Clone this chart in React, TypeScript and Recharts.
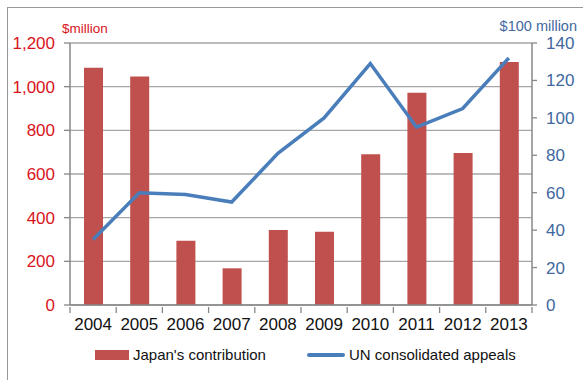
import React from 'react';
import { ComposedChart, Bar, Line, XAxis, YAxis, CartesianGrid } from 'recharts';

const years = ['2004', '2005', '2006', '2007', '2008', '2009', '2010', '2011', '2012', '2013'];
const japanContribution = [1087, 1047, 294, 168, 343, 336, 691, 972, 696, 1113];
const unAppeals = [35, 60, 59, 55, 81, 100, 129, 95, 105, 132];
const leftTicks = [0, 200, 400, 600, 800, 1000, 1200];
const rightTicks = [0, 20, 40, 60, 80, 100, 120, 140];

const data = years.map((y, i) => ({ year: y, japan: japanContribution[i], un: unAppeals[i] }));

const RED = '#C0504D';
const BLUE = '#4A7EBB';
const LEFT_TXT = '#D9141B';
const RIGHT_TXT = '#41689F';
const AXIS = '#878787';
const FONT = '"Liberation Sans", Arial, sans-serif';

const fmt = (v: number) => v.toLocaleString('en-US');

const XTick = (props: any) => {
  const { x, y, payload, index, width } = props;
  const half = width / years.length / 2;
  return (
    <g>
      <line x1={x - half} y1={y - 6} x2={x - half} y2={y} stroke={AXIS} strokeWidth={1.3} />
      {index === years.length - 1 && (
        <line x1={x + half} y1={y - 6} x2={x + half} y2={y} stroke={AXIS} strokeWidth={1.3} />
      )}
      <text x={x} y={y + 5} dy="0.71em" textAnchor="middle" fill="#111" fontSize={17} fontFamily={FONT}>
        {payload.value}
      </text>
    </g>
  );
};

export default function App() {
  return (
    <div style={{ position: 'absolute', left: 0, top: 0, width: 583, height: 380, overflow: 'hidden', background: '#fff' }}>
      <div style={{ position: 'absolute', left: 7, top: 7, width: 640, height: 420, border: '1px solid #999' }} />
      <div style={{ position: 'absolute', left: 62, top: 21, color: LEFT_TXT, fontFamily: FONT, fontSize: 13.5 }}>$million</div>
      <div style={{ position: 'absolute', right: 6, top: 18, color: RIGHT_TXT, fontFamily: FONT, fontSize: 14.5 }}>$100 million</div>
      <div style={{ position: 'absolute', left: 0, top: 0 }}>
        <ComposedChart width={583} height={380} data={data} margin={{ top: 43, right: 0, bottom: 45, left: 0 }}>
          <CartesianGrid vertical={false} stroke="#A6A6A6" strokeWidth={1.3} yAxisId="left" />
          <XAxis
            dataKey="year"
            height={30}
            tick={<XTick />}
            tickLine={false}
            axisLine={{ stroke: AXIS, strokeWidth: 1.5 }}
            interval={0}
          />
          <YAxis
            yAxisId="left"
            orientation="left"
            width={70}
            domain={[0, 1200]}
            ticks={leftTicks}
            tickFormatter={fmt}
            tickSize={6}
            tickMargin={9}
            tick={{ fill: LEFT_TXT, fontSize: 17, fontFamily: FONT }}
            axisLine={{ stroke: AXIS, strokeWidth: 1.5 }}
            tickLine={{ stroke: AXIS, strokeWidth: 1.3 }}
          />
          <YAxis
            yAxisId="right"
            orientation="right"
            width={51}
            domain={[0, 140]}
            ticks={rightTicks}
            tickSize={5}
            tickMargin={9}
            tick={{ fill: RIGHT_TXT, fontSize: 17, fontFamily: FONT }}
            axisLine={{ stroke: AXIS, strokeWidth: 1.5 }}
            tickLine={{ stroke: AXIS, strokeWidth: 1.3 }}
          />
          <Bar yAxisId="left" dataKey="japan" fill={RED} barSize={19} isAnimationActive={false} />
          <Line
            yAxisId="right"
            dataKey="un"
            stroke={BLUE}
            strokeWidth={3.5}
            dot={false}
            activeDot={false}
            isAnimationActive={false}
          />
        </ComposedChart>
      </div>
      <div style={{ position: 'absolute', left: 95, top: 350, width: 34, height: 10, background: RED }} />
      <div style={{ position: 'absolute', left: 133, top: 346, fontFamily: FONT, fontSize: 15, color: '#111' }}>Japan's contribution</div>
      <div style={{ position: 'absolute', left: 307, top: 353, width: 38, height: 4, background: BLUE, borderRadius: 2 }} />
      <div style={{ position: 'absolute', left: 349, top: 346, fontFamily: FONT, fontSize: 15, color: '#111' }}>UN consolidated appeals</div>
    </div>
  );
}
